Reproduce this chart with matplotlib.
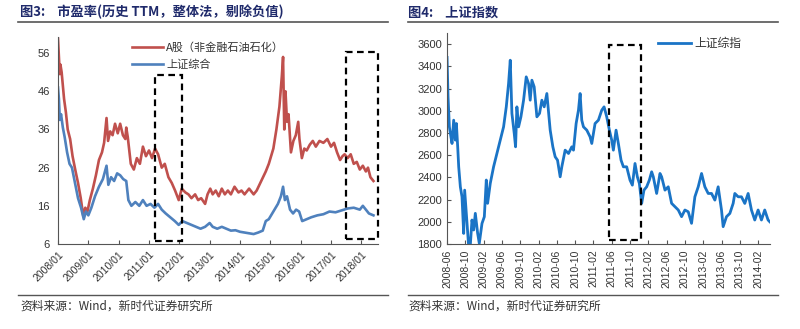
import matplotlib
matplotlib.use("Agg")
import matplotlib.pyplot as plt
from matplotlib.patches import Rectangle
from matplotlib.lines import Line2D

plt.rcParams['font.family'] = ['Noto Sans CJK SC', 'DejaVu Sans']

# ---------------- Left chart data (fractional year, P/E) ----------------
pe_a_x = [2008.00, 2008.03, 2008.06, 2008.08, 2008.12, 2008.20, 2008.26, 2008.32, 2008.40,
          2008.48, 2008.58, 2008.66, 2008.75, 2008.83, 2008.90, 2008.97, 2009.05, 2009.15,
          2009.25, 2009.35, 2009.45, 2009.52, 2009.60, 2009.65, 2009.72, 2009.80, 2009.88,
          2009.97, 2010.05, 2010.14, 2010.22, 2010.25, 2010.30, 2010.40, 2010.50, 2010.60,
          2010.70, 2010.80, 2010.90, 2011.00, 2011.10, 2011.20, 2011.30, 2011.42, 2011.52,
          2011.64, 2011.75, 2011.86, 2011.98, 2012.08, 2012.20, 2012.30, 2012.40, 2012.52,
          2012.62, 2012.72, 2012.85, 2012.93, 2013.02, 2013.10, 2013.20, 2013.30, 2013.40,
          2013.50, 2013.60, 2013.70, 2013.82, 2013.95, 2014.05, 2014.15, 2014.30, 2014.45,
          2014.55, 2014.70, 2014.85, 2014.95, 2015.10, 2015.20, 2015.30, 2015.38, 2015.42,
          2015.46, 2015.50, 2015.55, 2015.60, 2015.68, 2015.76, 2015.84, 2015.92, 2015.96,
          2016.04, 2016.12, 2016.20, 2016.30, 2016.40, 2016.50, 2016.62, 2016.75, 2016.88,
          2017.00, 2017.10, 2017.20, 2017.30, 2017.38, 2017.45, 2017.55, 2017.65, 2017.75,
          2017.85, 2017.95, 2018.05, 2018.15, 2018.22, 2018.30, 2018.40]
pe_a_y = [59.8, 55.0, 50.5, 53.0, 51.0, 44.0, 40.5, 36.0, 33.5,
          29.0, 25.0, 22.0, 18.0, 13.5, 15.5, 14.5, 17.5, 20.5,
          24.0, 28.0, 30.0, 32.5, 39.0, 33.0, 35.5, 34.5, 37.5,
          35.0, 37.5, 34.5, 33.5, 36.5, 34.0, 27.0, 25.5, 28.5,
          27.0, 31.5, 29.0, 30.5, 28.5, 31.0, 29.5, 26.0, 27.0,
          23.5, 22.0, 20.0, 17.5, 20.5, 19.5, 19.0, 18.0, 19.0,
          17.5, 18.0, 16.5, 19.0, 20.5, 19.0, 20.0, 18.5, 20.5,
          19.0, 20.0, 19.0, 21.0, 19.5, 20.0, 19.0, 20.5, 19.0,
          20.0, 22.5, 25.0, 27.0, 31.0, 36.0, 42.0, 50.0, 55.0,
          36.0, 46.0, 38.0, 40.0, 30.0, 33.0, 34.5, 38.0, 33.5,
          28.5, 31.0, 30.5, 32.0, 33.0, 31.5, 33.0, 32.5, 33.5,
          31.5, 32.5, 30.0, 28.0, 29.0, 29.5, 28.5, 29.5, 27.0,
          27.5, 25.5, 26.5, 25.0, 26.0, 23.5, 22.5]

pe_sh_x = [2008.00, 2008.03, 2008.06, 2008.10, 2008.16, 2008.22, 2008.30, 2008.38, 2008.46,
           2008.56, 2008.66, 2008.76, 2008.85, 2008.92, 2009.00, 2009.10, 2009.22, 2009.35,
           2009.48, 2009.60, 2009.66, 2009.75, 2009.85, 2009.95, 2010.05, 2010.15, 2010.25,
           2010.32, 2010.42, 2010.55, 2010.68, 2010.80, 2010.92, 2011.05, 2011.18, 2011.30,
           2011.42, 2011.55, 2011.70, 2011.85, 2011.98, 2012.10, 2012.25, 2012.40, 2012.55,
           2012.70, 2012.85, 2013.00, 2013.10, 2013.25, 2013.40, 2013.55, 2013.70, 2013.85,
           2014.00, 2014.15, 2014.30, 2014.45, 2014.60, 2014.75, 2014.85, 2014.95, 2015.10,
           2015.25, 2015.35, 2015.42, 2015.48, 2015.55, 2015.65, 2015.75, 2015.85, 2015.95,
           2016.05, 2016.20, 2016.35, 2016.55, 2016.75, 2016.95, 2017.15, 2017.35, 2017.55,
           2017.75, 2017.95, 2018.05, 2018.15, 2018.25, 2018.40]
pe_sh_y = [47.0, 44.0, 38.5, 40.0, 36.5, 34.0, 30.0, 27.0, 26.0,
           22.0, 18.0, 15.5, 12.5, 14.5, 13.5, 15.5, 18.5, 21.0,
           23.0, 26.5, 21.5, 23.5, 22.5, 24.5, 24.0, 23.0, 22.5,
           17.5, 16.0, 17.0, 16.0, 17.5, 16.0, 16.5, 15.5, 16.5,
           15.0, 14.0, 13.0, 12.0, 11.0, 12.0, 11.5, 11.0, 10.5,
           10.0, 10.5, 11.5, 10.5, 10.0, 10.5, 10.0, 9.5, 9.6,
           9.2, 9.0, 8.8, 8.6, 9.0, 9.5, 12.0, 12.5, 14.5,
           16.5, 18.5, 21.0, 17.5, 18.5, 15.0, 14.0, 15.0, 14.5,
           12.0, 12.5, 13.0, 13.5, 13.8, 14.5, 14.3, 14.8, 15.3,
           15.5, 15.0, 16.0, 15.0, 14.0, 13.5]

pe_yticks = [6, 16, 26, 36, 46, 56]
pe_xticks = list(range(2008, 2019))
pe_xlabels = [f"{y}/01" for y in pe_xticks]

# ---------------- Right chart data (months since 2008-06, index) ----------------
sh_x = [0.0, 0.22, 0.51, 0.73, 1.09, 1.45, 1.82, 2.04, 2.33, 2.55,
        2.91, 3.27, 3.64, 3.85, 4.36, 4.73, 5.09, 5.45, 5.82, 6.18,
        6.69, 7.05, 7.64, 8.15, 8.58, 8.87, 9.45, 10.18, 10.91, 11.64,
        12.36, 12.95, 13.45, 13.82, 14.18, 14.69, 14.98, 15.27, 15.64, 16.15,
        16.73, 17.31, 17.82, 18.18, 18.55, 19.05, 19.64, 20.22, 20.73, 21.24,
        21.82, 22.55, 23.13, 23.64, 24.15, 24.73, 25.09, 25.82, 26.55, 27.27,
        27.64, 28.22, 28.73, 29.09, 29.45, 29.82, 30.55, 31.27, 31.64, 32.36,
        33.09, 33.82, 34.33, 34.91, 35.49, 36.0, 36.36, 36.95, 37.45, 38.04,
        38.55, 39.27, 40.0, 40.51, 41.09, 41.6, 42.04, 42.55, 43.05, 43.64,
        44.22, 44.73, 45.09, 45.82, 46.55, 46.91, 47.64, 48.36, 49.09, 49.82,
        50.55, 51.27, 52.0, 52.73, 53.45, 54.18, 54.91, 55.64, 56.36, 57.09,
        57.82, 58.55, 59.27, 60.0, 60.36, 61.09, 61.82, 62.55, 62.91, 63.64,
        64.36, 65.09, 65.82, 66.55, 67.27, 68.0, 68.73, 69.45, 70.18, 70.55]
sh_y = [3480, 3125, 2855, 2795, 2705, 2915, 2735, 2885, 2675, 2495,
        2315, 2225, 1895, 2285, 1985, 1776, 1790, 2016, 1926, 2076,
        1896, 1806, 1985, 2045, 2376, 2166, 2346, 2496, 2616, 2735,
        2855, 3035, 3245, 3455, 2976, 2795, 2675, 3035, 2855, 2945,
        3095, 3305, 3245, 3095, 3275, 3215, 2945, 2976, 3095, 3035,
        3155, 2825, 2675, 2585, 2555, 2405, 2495, 2645, 2615, 2675,
        2645, 2885, 3005, 3155, 2915, 2855, 2825, 2765, 2705, 2885,
        2915, 3005, 3035, 2945, 2825, 2735, 2645, 2825, 2705, 2555,
        2495, 2495, 2375, 2330, 2525, 2405, 2345, 2166, 2285, 2315,
        2375, 2450, 2405, 2255, 2435, 2405, 2285, 2315, 2166, 2136,
        2106, 2046, 2106, 2090, 1986, 2225, 2315, 2435, 2315, 2255,
        2255, 2195, 2315, 2105, 1956, 2046, 2075, 2166, 2255, 2225,
        2225, 2165, 2255, 2105, 2016, 2106, 2016, 2106, 2016, 2000]

sh_yticks = [1800, 2000, 2200, 2400, 2600, 2800, 3000, 3200, 3400, 3600]
sh_xticks = list(range(0, 72, 4))
sh_xlabels = ["2008-06", "2008-10", "2009-02", "2009-06", "2009-10", "2010-02",
              "2010-06", "2010-10", "2011-02", "2011-06", "2011-10", "2012-02",
              "2012-06", "2012-10", "2013-02", "2013-06", "2013-10", "2014-02"]

RED = "#c0504d"
BLUE_L = "#4f81bd"
BLUE_R = "#1a74c6"
TITLE_C = "#1f2a6b"
TXT = "#333333"

fig = plt.figure(figsize=(8.0, 3.29), dpi=100)

# ---------------- Left axes ----------------
axL = fig.add_axes([0.0725, 0.2584, 0.400, 0.6300])
axL.plot(pe_a_x, pe_a_y, color=RED, lw=1.9, label="A股（非金融石油石化）")
axL.plot(pe_sh_x, pe_sh_y, color=BLUE_L, lw=1.9, label="上证综合")
axL.set_xlim(2008.0, 2018.55)
axL.set_ylim(6, 60.3)
axL.set_yticks(pe_yticks)
axL.set_xticks(pe_xticks)
axL.set_xticklabels(pe_xlabels, rotation=45, ha='right', rotation_mode='anchor',
                    fontsize=7.5, color=TXT, family=['Liberation Sans', 'DejaVu Sans'])
axL.tick_params(axis='y', length=0, labelsize=8, labelcolor=TXT, pad=6)
for t in axL.get_yticklabels():
    t.set_family(['Liberation Sans', 'DejaVu Sans'])
axL.tick_params(axis='x', direction='in', length=3, pad=4, color='#555555')
for s in ['top', 'right']:
    axL.spines[s].set_visible(False)
for s in ['left', 'bottom']:
    axL.spines[s].set_color('#555555')
axL.add_patch(Rectangle((2011.19, 6.9), 0.91, 43.3, fill=False, ls=(0, (3, 2)),
                        lw=1.6, ec='black', zorder=5))
axL.add_patch(Rectangle((2017.50, 7.3), 1.05, 49.0, fill=False, ls=(0, (3, 2)),
                        lw=1.6, ec='black', zorder=5, clip_on=False))
axL.legend(loc='upper left', bbox_to_anchor=(0.20, 1.02), frameon=False, fontsize=8,
           handlelength=2.8, labelspacing=0.6, handletextpad=0.3,
           labelcolor=TXT)

# ---------------- Right axes ----------------
axR = fig.add_axes([0.5588, 0.2584, 0.4037, 0.6413])
axR.plot(sh_x, sh_y, color=BLUE_R, lw=2.0, label="上证综指")
axR.set_xlim(0, 70.6)
axR.set_ylim(1800, 3700)
axR.set_yticks(sh_yticks)
axR.set_xticks(sh_xticks)
axR.set_xticklabels(sh_xlabels, rotation=90, fontsize=7.5, color=TXT,
                    family=['Liberation Sans', 'DejaVu Sans'])
axR.tick_params(axis='y', direction='in', length=3, labelsize=8, labelcolor=TXT, color='#555555')
for t in axR.get_yticklabels():
    t.set_family(['Liberation Sans', 'DejaVu Sans'])
axR.tick_params(axis='x', direction='in', length=3, pad=4, color='#555555')
for s in ['top', 'right']:
    axR.spines[s].set_visible(False)
for s in ['left', 'bottom']:
    axR.spines[s].set_color('#555555')
axR.add_patch(Rectangle((35.5, 1836), 7.0, 1754, fill=False, ls=(0, (3, 2)),
                        lw=1.6, ec='black', zorder=5))
axR.legend(loc='upper left', bbox_to_anchor=(0.62, 1.03), frameon=False, fontsize=8.5,
           handlelength=2.8, handletextpad=0.3, labelcolor=TXT)

# ---------------- Titles, rules, footnotes ----------------
fig.text(0.025, 0.963, "图3:    市盈率(历史 TTM，整体法，剔除负值)", fontsize=9.5,
         fontweight='bold', color=TITLE_C, va='center', ha='left')
fig.text(0.510, 0.963, "图4:    上证指数", fontsize=9.5,
         fontweight='bold', color=TITLE_C, va='center', ha='left')
fig.add_artist(Line2D([0.0225, 0.485], [0.933, 0.933], color='#555555', lw=1.2))
fig.add_artist(Line2D([0.510, 0.973], [0.933, 0.933], color='#555555', lw=1.2))
fig.add_artist(Line2D([0.0225, 0.485], [0.103, 0.103], color='#555555', lw=1.0))
fig.add_artist(Line2D([0.510, 0.973], [0.103, 0.103], color='#555555', lw=1.0))
fig.text(0.025, 0.068, "资料来源：Wind，新时代证券研究所", fontsize=8.5, color=TXT,
         va='center', ha='left')
fig.text(0.510, 0.068, "资料来源：Wind，新时代证券研究所", fontsize=8.5, color=TXT,
         va='center', ha='left')

fig.savefig("out.png", dpi=100)
